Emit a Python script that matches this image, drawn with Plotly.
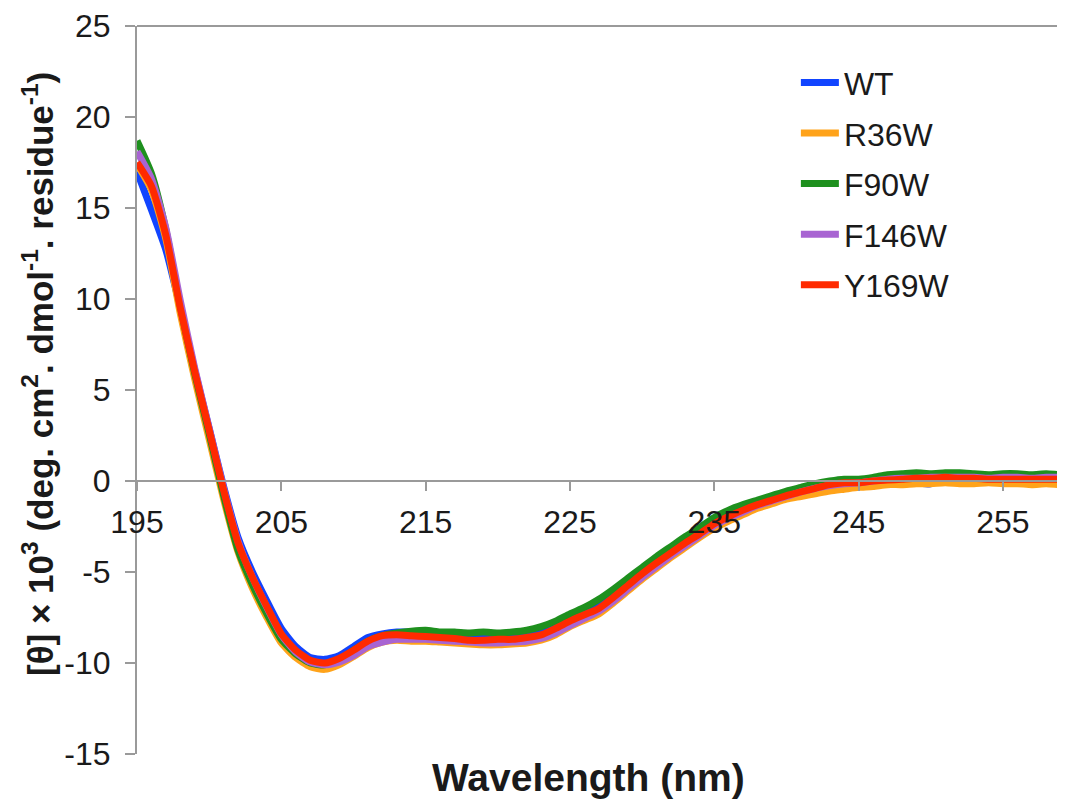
import plotly.graph_objects as go

wavelength = list(range(195, 261))

wt = [17.0, 14.9, 12.7, 9.5, 6.1, 2.9, -0.3, -3.1, -5.0, -6.6, -8.1, -9.1, -9.7, -9.8, -9.6, -9.1,
      -8.6, -8.4, -8.3, -8.3, -8.3, -8.35, -8.4, -8.5, -8.55, -8.55, -8.55, -8.5, -8.35, -8.05, -7.65,
      -7.3, -6.9, -6.35, -5.7, -5.05, -4.45, -3.9, -3.35, -2.85, -2.3, -1.9, -1.55, -1.25, -1.0, -0.75,
      -0.55, -0.35, -0.15, -0.05, -0.05, 0.05, 0.1, 0.1, -0.1, -0.15, 0.1, 0.15, 0.15, 0.1, 0.1, 0.1,
      0.1, 0.1, 0.05, 0.05]

r36w = [17.4, 16.0, 13.3, 9.2, 5.6, 2.3, -1.0, -3.9, -5.9, -7.5, -8.9, -9.7, -10.2, -10.35, -10.1, -9.65,
        -9.15, -8.85, -8.75, -8.8, -8.8, -8.85, -8.9, -8.95, -9.0, -9.0, -8.95, -8.9, -8.75, -8.45, -8.0,
        -7.65, -7.3, -6.7, -6.05, -5.4, -4.8, -4.2, -3.65, -3.1, -2.6, -2.2, -1.85, -1.5, -1.25, -1.0,
        -0.85, -0.7, -0.55, -0.45, -0.35, -0.3, -0.2, -0.2, -0.15, -0.15, -0.1, -0.15, -0.15, -0.1, -0.15,
        -0.15, -0.2, -0.15, -0.2, -0.2]

f90w = [18.7, 16.9, 13.8, 9.6, 5.9, 2.6, -0.8, -3.8, -5.7, -7.3, -8.7, -9.5, -10.0, -10.1, -9.8, -9.3,
        -8.8, -8.5, -8.35, -8.25, -8.2, -8.3, -8.3, -8.35, -8.3, -8.35, -8.3, -8.2, -8.0, -7.7, -7.3,
        -6.95, -6.5, -5.95, -5.35, -4.75, -4.15, -3.6, -3.05, -2.55, -2.0, -1.6, -1.3, -1.05, -0.8, -0.55,
        -0.35, -0.15, 0.0, 0.1, 0.1, 0.2, 0.35, 0.4, 0.45, 0.4, 0.45, 0.45, 0.4, 0.35, 0.4,
        0.4, 0.35, 0.4, 0.35, 0.35]

f146w = [18.1, 16.6, 13.9, 9.9, 6.2, 2.9, -0.4, -3.3, -5.3, -6.95, -8.45, -9.4, -9.95, -10.1, -9.95, -9.6,
         -9.1, -8.85, -8.7, -8.7, -8.7, -8.75, -8.8, -8.85, -8.9, -8.9, -8.85, -8.8, -8.65, -8.35, -7.95,
         -7.55, -7.15, -6.6, -5.95, -5.3, -4.7, -4.1, -3.55, -3.0, -2.45, -2.05, -1.7, -1.35, -1.1, -0.85,
         -0.6, -0.4, -0.25, -0.15, -0.1, 0.0, 0.1, 0.15, 0.15, 0.2, 0.2, 0.2, 0.2, 0.15, 0.2,
         0.2, 0.15, 0.2, 0.2, 0.2]

y169w = [17.5, 16.2, 13.5, 9.5, 6.0, 2.8, -0.5, -3.4, -5.3, -6.9, -8.4, -9.3, -9.85, -10.0, -9.75, -9.3,
         -8.8, -8.5, -8.45, -8.5, -8.55, -8.6, -8.65, -8.75, -8.75, -8.7, -8.7, -8.6, -8.45, -8.1, -7.7,
         -7.35, -7.0, -6.4, -5.75, -5.1, -4.5, -3.95, -3.4, -2.9, -2.35, -1.95, -1.6, -1.3, -1.05, -0.8,
         -0.6, -0.4, -0.2, -0.1, -0.1, 0.0, 0.05, 0.1, 0.15, 0.15, 0.2, 0.15, 0.15, 0.1, 0.1,
         0.1, 0.1, 0.1, 0.1, 0.1]

series_names = ["WT", "R36W", "F90W", "F146W", "Y169W"]
series_values = [wt, r36w, f90w, f146w, y169w]
series_colors = ["#1144ff", "#ffa31a", "#1e901e", "#a864d2", "#ff2a00"]

x_ticks = [195, 205, 215, 225, 235, 245, 255]
y_ticks = [-15, -10, -5, 0, 5, 10, 15, 20, 25]

FONT = "Liberation Sans, Arial, sans-serif"
AXIS_GRAY = "#9a9a9a"
TEXT = "#1a1a1a"

fig = go.Figure()
for name, vals, col in zip(series_names, series_values, series_colors):
    fig.add_trace(go.Scatter(
        x=wavelength, y=vals, name=name, mode="lines",
        line=dict(color=col, width=7, shape="spline", smoothing=0.6),
        legendgroup=name,
    ))

# The page body adds an 8 px margin, so the figure is sized 1057x792 to fill 1065x800.
fig.update_layout(
    width=1057, height=792,
    margin=dict(l=129, r=0, t=16, b=46),
    paper_bgcolor="white", plot_bgcolor="white",
    font=dict(family=FONT, size=32, color=TEXT),
    showlegend=True,
    legend=dict(
        x=0.71, y=0.96, xanchor="left", yanchor="top",
        bgcolor="rgba(0,0,0,0)", font=dict(size=32, color=TEXT),
        tracegroupgap=6, itemwidth=38,
    ),
    xaxis=dict(
        range=[195, 259.3], tickvals=x_ticks, ticktext=[str(v) for v in x_ticks],
        showgrid=False, zeroline=False,
        showline=True, linecolor=AXIS_GRAY, linewidth=2,
        ticks="outside", ticklen=9, tickcolor=AXIS_GRAY, tickwidth=2,
        anchor="free", position=0.375,
        ticklabelstandoff=4,
        tickfont=dict(size=32, family=FONT, color=TEXT),
    ),
    yaxis=dict(
        range=[-15, 25], tickvals=y_ticks, ticktext=[str(v) for v in y_ticks],
        showgrid=False, zeroline=False,
        showline=True, linecolor=AXIS_GRAY, linewidth=2,
        ticks="outside", ticklen=10, tickcolor=AXIS_GRAY, tickwidth=2,
        ticklabelstandoff=8, ticklabeloverflow="allow",
        tickfont=dict(size=32, family=FONT, color=TEXT),
    ),
    shapes=[dict(type="line", xref="paper", yref="paper", x0=0, x1=1, y0=1, y1=1,
                 line=dict(color=AXIS_GRAY, width=2))],
    annotations=[
        dict(text="Wavelength (nm)", xref="paper", yref="paper", x=0.486, y=0,
             xanchor="center", yanchor="middle", yshift=-23, showarrow=False,
             font=dict(family=FONT, size=39, color=TEXT, weight="bold")),
        dict(text="[θ] × 10<sup>3</sup> (deg. cm<sup>2</sup>. dmol<sup>-1</sup>. residue<sup>-1</sup>)",
             xref="paper", yref="paper", x=0, y=0.5, xanchor="center", yanchor="middle",
             xshift=-99, yshift=16, textangle=-90, showarrow=False,
             font=dict(family=FONT, size=35, color=TEXT, weight="bold")),
    ],
)

fig.write_html("out.html")
